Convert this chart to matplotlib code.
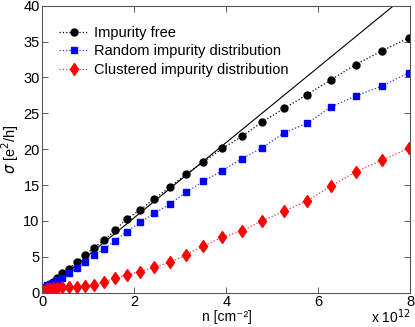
import numpy as np
import matplotlib
matplotlib.use('Agg')
import matplotlib.pyplot as plt

plt.rcParams['font.family'] = ['Liberation Sans', 'DejaVu Sans']

# carrier density in units of 1e12 cm^-2
n = [0.02, 0.09, 0.16, 0.23, 0.32, 0.43, 0.58, 0.74, 0.92, 1.11, 1.34, 1.58, 1.83, 2.12,
     2.43, 2.77, 3.12, 3.49, 3.91, 4.34, 4.78, 5.26, 5.75, 6.28, 6.81, 7.38, 7.96]

sigma_free = [0.6, 0.95, 1.2, 1.5, 2.1, 2.7, 3.3, 4.3, 5.2, 6.25, 7.3, 8.7, 10.3, 11.5,
              13.1, 14.7, 16.5, 18.2, 20.1, 21.8, 23.8, 25.7, 27.6, 29.7, 31.8, 33.7, 35.5]
sigma_random = [0.8, 1.0, 1.2, 1.4, 1.8, 2.1, 2.8, 3.5, 4.3, 5.2, 6.1, 7.25, 8.5, 9.8,
                11.05, 12.35, 14.0, 15.5, 17.0, 18.7, 20.2, 22.3, 23.6, 25.9, 27.4, 28.8, 30.65]
sigma_cluster = [0.3, 0.45, 0.55, 0.6, 0.65, 0.72, 0.79, 0.84, 0.93, 1.07, 1.5, 2.0, 2.47, 2.93,
                 3.54, 4.24, 5.21, 6.51, 7.72, 8.64, 10.03, 11.39, 12.78, 14.87, 16.86, 18.45, 20.12]

# linear reference line
line_n = [0, 8]
line_slope = 5.24

fig = plt.figure(figsize=(4.15, 3.27), dpi=100)
ax = fig.add_axes([0.1024, 0.105, 0.8866, 0.8776])

ax.plot(line_n, [line_slope * v for v in line_n], '-', color='black', lw=0.8)
ax.plot(n, sigma_free, ':', color='black', lw=0.9, marker='o', markersize=5,
        markerfacecolor='black', markeredgecolor='black', label='Impurity free')
ax.plot(n, sigma_random, ':', color='#3333ff', lw=0.9, marker='s', markersize=4,
        markerfacecolor='#0000ff', markeredgecolor='#0000ff', label='Random impurity distribution')
ax.plot(n, sigma_cluster, ':', color='#ff3333', lw=0.9, marker='d', markersize=6,
        markerfacecolor='#ff0000', markeredgecolor='#ff0000', label='Clustered impurity distribution')

ax.set_xlim(0, 8)
ax.set_ylim(0, 40)
ax.set_xticks([0, 2, 4, 6, 8])
ax.set_yticks([0, 5, 10, 15, 20, 25, 30, 35, 40])
ax.tick_params(direction='in', length=4, width=0.6, top=True, right=True,
               labelsize=10.5, pad=2, colors='#444444', labelcolor='black')
ax.tick_params(axis='x', pad=1.5)
for s in ax.spines.values():
    s.set_color('#555555')
    s.set_linewidth(0.8)

ax.set_xlabel('n [cm\u207b\u00b2]', fontsize=10)
ax.xaxis.set_label_coords(0.5, -0.06)
ax.set_ylabel(r'$\sigma$ [e$^2$/h]', fontsize=10.5)
ax.yaxis.set_label_coords(-0.058, 0.5)
fig.text(0.893, 0.012, r'x 10$^{12}$', fontsize=10, va='baseline')

ax.legend(loc='upper left', frameon=False, fontsize=10.5, handlelength=2.0,
          handletextpad=0.4, labelspacing=0.3, borderaxespad=0.6,
          bbox_to_anchor=(0.005, 0.98))

plt.savefig('out.png', dpi=100)
